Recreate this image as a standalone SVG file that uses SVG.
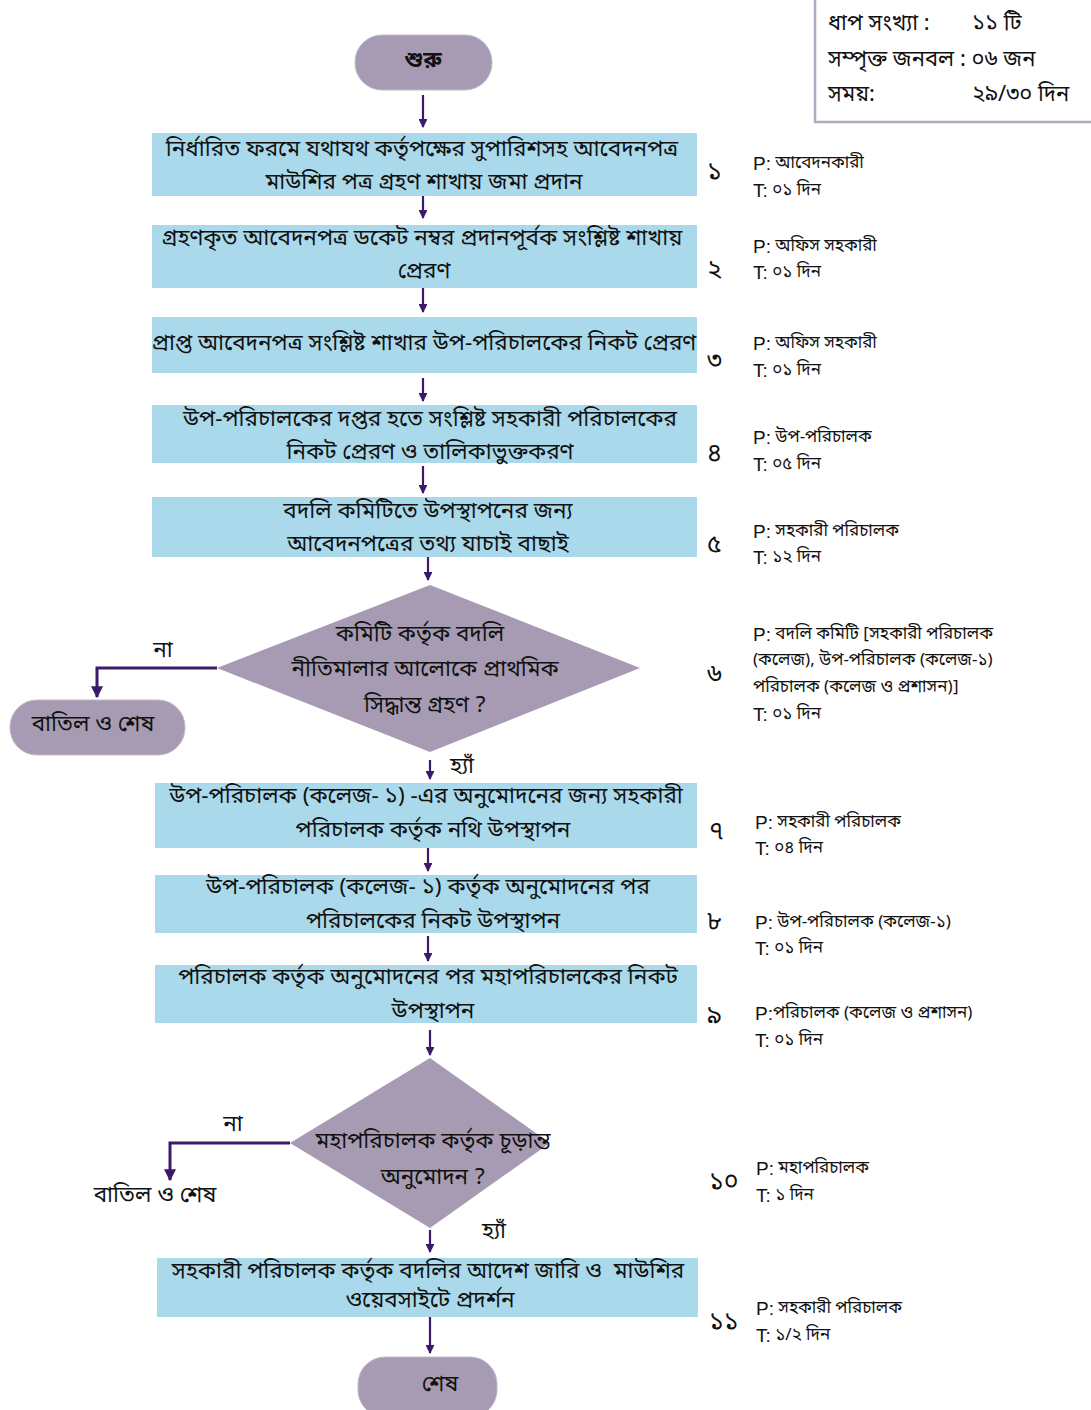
<svg xmlns="http://www.w3.org/2000/svg" width="1091" height="1410" viewBox="0 0 1091 1410">
<style>
text{font-family:"Noto Sans Bengali","Noto Serif Bengali","Lohit Bengali","Noto Sans","DejaVu Sans",sans-serif;fill:#111}
.bx{fill:#a9d9ea}
.term{fill:#a79bb3;stroke:#c4b7cc;stroke-width:1}
.dia{fill:#a79bb3}
.t{font-size:22.5px;text-anchor:middle;dominant-baseline:central}
.s{font-size:17px;dominant-baseline:central}
.n{font-size:25px;dominant-baseline:central}
.i{font-size:22px;dominant-baseline:central}
.l{font-family:"Liberation Sans",sans-serif;font-size:19px}
.c{stroke:#3b1a6b;stroke-width:2.2;fill:none}
.c2{stroke:#3b1a6b;stroke-width:3;fill:none}
</style>
<defs>
<marker id="ah" viewBox="0 0 10 10" refX="9" refY="5" markerWidth="4" markerHeight="4" orient="auto" markerUnits="strokeWidth">
<path d="M0,0 L10,5 L0,10 z" fill="#3b1a6b"/>
</marker>
</defs>
<rect width="1091" height="1410" fill="#fff"/>

<g id="info">
<rect x="815" y="-2" width="290" height="124" fill="#fff" stroke="#b4a9be" stroke-width="2.5"/>
<text class="i" x="828" y="24">ধাপ সংখ্যা :</text>
<text class="i" x="972" y="24">১১ টি</text>
<text class="i" x="828" y="60">সম্পৃক্ত জনবল : ০৬ জন</text>
<text class="i" x="828" y="95">সময়:</text>
<text class="i" x="972" y="95">২৯/৩০ দিন</text>
</g>

<g id="start">
<rect class="term" x="355" y="35" width="137" height="55" rx="27"/>
<text class="t" x="423" y="61" style="font-weight:bold">শুরু</text>
</g>

<g id="s1">
<rect class="bx" x="152" y="133" width="545" height="63"/>
<text class="t" x="422" y="150">নির্ধারিত ফরমে যথাযথ কর্তৃপক্ষের সুপারিশসহ আবেদনপত্র</text>
<text class="t" x="424" y="183">মাউশির পত্র গ্রহণ শাখায় জমা প্রদান</text>
</g>
<g id="s2">
<rect class="bx" x="152" y="225" width="545" height="63"/>
<text class="t" x="422" y="239">গ্রহণকৃত আবেদনপত্র ডকেট নম্বর প্রদানপূর্বক সংশ্লিষ্ট শাখায়</text>
<text class="t" x="424" y="272">প্রেরণ</text>
</g>
<g id="s3">
<rect class="bx" x="152" y="317" width="545" height="56"/>
<text class="t" x="424" y="344">প্রাপ্ত আবেদনপত্র সংশ্লিষ্ট শাখার উপ-পরিচালকের নিকট প্রেরণ</text>
</g>
<g id="s4">
<rect class="bx" x="152" y="405" width="545" height="58"/>
<text class="t" x="430" y="420">উপ-পরিচালকের দপ্তর হতে সংশ্লিষ্ট সহকারী পরিচালকের</text>
<text class="t" x="430" y="453">নিকট প্রেরণ ও তালিকাভুক্তকরণ</text>
</g>
<g id="s5">
<rect class="bx" x="152" y="497" width="545" height="60"/>
<text class="t" x="428" y="512">বদলি কমিটিতে উপস্থাপনের জন্য</text>
<text class="t" x="428" y="545">আবেদনপত্রের তথ্য যাচাই বাছাই</text>
</g>
<g id="d6">
<polygon class="dia" points="430,585 640,668 430,752 217,668"/>
<text class="t" x="420" y="635">কমিটি কর্তৃক বদলি</text>
<text class="t" x="425" y="670">নীতিমালার আলোকে প্রাথমিক</text>
<text class="t" x="425" y="706">সিদ্ধান্ত গ্রহণ ?</text>
</g>
<g id="reject1">
<rect class="term" x="10" y="700" width="175" height="55" rx="27"/>
<text class="t" x="93" y="725">বাতিল ও শেষ</text>
</g>
<g id="s7">
<rect class="bx" x="155" y="783" width="542" height="65"/>
<text class="t" x="426" y="797">উপ-পরিচালক (কলেজ- ১) -এর অনুমোদনের জন্য সহকারী</text>
<text class="t" x="433" y="831">পরিচালক কর্তৃক নথি উপস্থাপন</text>
</g>
<g id="s8">
<rect class="bx" x="155" y="875" width="542" height="58"/>
<text class="t" x="428" y="888">উপ-পরিচালক (কলেজ- ১) কর্তৃক অনুমোদনের পর</text>
<text class="t" x="433" y="922">পরিচালকের নিকট উপস্থাপন</text>
</g>
<g id="s9">
<rect class="bx" x="155" y="965" width="542" height="58"/>
<text class="t" x="428" y="978">পরিচালক কর্তৃক অনুমোদনের পর মহাপরিচালকের নিকট</text>
<text class="t" x="433" y="1012">উপস্থাপন</text>
</g>
<g id="d10">
<polygon class="dia" points="430,1058 550,1143 430,1228 290,1143"/>
<text class="t" x="433" y="1142">মহাপরিচালক কর্তৃক চূড়ান্ত</text>
<text class="t" x="433" y="1178">অনুমোদন ?</text>
</g>
<g id="reject2">
<text class="t" x="155" y="1196">বাতিল ও শেষ</text>
</g>
<g id="s11">
<rect class="bx" x="157" y="1258" width="541" height="59"/>
<text class="t" x="428" y="1272">সহকারী পরিচালক কর্তৃক বদলির আদেশ জারি ও&#160; মাউশির</text>
<text class="t" x="430" y="1301">ওয়েবসাইটে প্রদর্শন</text>
</g>
<g id="end">
<rect class="term" x="358" y="1357" width="139" height="60" rx="27"/>
<text class="t" x="440" y="1385">শেষ</text>
</g>

<g id="connectors">
<line class="c" x1="423" y1="95" x2="423" y2="127" marker-end="url(#ah)"/>
<line class="c" x1="423" y1="196" x2="423" y2="218" marker-end="url(#ah)"/>
<line class="c" x1="423" y1="288" x2="423" y2="312" marker-end="url(#ah)"/>
<line class="c" x1="423" y1="378" x2="423" y2="401" marker-end="url(#ah)"/>
<line class="c" x1="423" y1="466" x2="423" y2="493" marker-end="url(#ah)"/>
<line class="c" x1="428" y1="557" x2="428" y2="580" marker-end="url(#ah)"/>
<polyline class="c2" points="217,668 97,668 97,697" marker-end="url(#ah)"/>
<line class="c" x1="430" y1="760" x2="430" y2="779" marker-end="url(#ah)"/>
<line class="c" x1="428" y1="848" x2="428" y2="871" marker-end="url(#ah)"/>
<line class="c" x1="428" y1="936" x2="428" y2="961" marker-end="url(#ah)"/>
<line class="c" x1="430" y1="1030" x2="430" y2="1055" marker-end="url(#ah)"/>
<polyline class="c2" points="290,1143 170,1143 170,1180" marker-end="url(#ah)"/>
<line class="c" x1="430" y1="1230" x2="430" y2="1252" marker-end="url(#ah)"/>
<line class="c" x1="430" y1="1317" x2="430" y2="1353" marker-end="url(#ah)"/>
<text class="t" x="163" y="651">না</text>
<text class="t" x="462" y="767">হ্যাঁ</text>
<text class="t" x="233" y="1125">না</text>
<text class="t" x="494" y="1232">হ্যাঁ</text>
</g>

<g id="notes">
<text class="n" x="707" y="172">১</text>
<text class="s" x="753" y="163"><tspan class="l">P:</tspan> আবেদনকারী</text>
<text class="s" x="753" y="190"><tspan class="l">T:</tspan> ০১ দিন</text>
<text class="n" x="707" y="270">২</text>
<text class="s" x="753" y="246"><tspan class="l">P:</tspan> অফিস সহকারী</text>
<text class="s" x="753" y="272"><tspan class="l">T:</tspan> ০১ দিন</text>
<text class="n" x="707" y="362">৩</text>
<text class="s" x="753" y="343"><tspan class="l">P:</tspan> অফিস সহকারী</text>
<text class="s" x="753" y="370"><tspan class="l">T:</tspan> ০১ দিন</text>
<text class="n" x="707" y="454">৪</text>
<text class="s" x="753" y="437"><tspan class="l">P:</tspan> উপ-পরিচালক</text>
<text class="s" x="753" y="464"><tspan class="l">T:</tspan> ০৫ দিন</text>
<text class="n" x="707" y="545">৫</text>
<text class="s" x="753" y="531"><tspan class="l">P:</tspan> সহকারী পরিচালক</text>
<text class="s" x="753" y="557"><tspan class="l">T:</tspan> ১২ দিন</text>
<text class="n" x="707" y="675">৬</text>
<text class="s" x="753" y="634"><tspan class="l">P:</tspan> বদলি কমিটি [সহকারী পরিচালক</text>
<text class="s" x="753" y="660">(কলেজ), উপ-পরিচালক (কলেজ-১)</text>
<text class="s" x="753" y="687">পরিচালক (কলেজ ও প্রশাসন)]</text>
<text class="s" x="753" y="714"><tspan class="l">T:</tspan> ০১ দিন</text>
<text class="n" x="709" y="832">৭</text>
<text class="s" x="755" y="822"><tspan class="l">P:</tspan> সহকারী পরিচালক</text>
<text class="s" x="755" y="848"><tspan class="l">T:</tspan> ০৪ দিন</text>
<text class="n" x="707" y="922">৮</text>
<text class="s" x="755" y="922"><tspan class="l">P:</tspan> উপ-পরিচালক (কলেজ-১)</text>
<text class="s" x="755" y="948"><tspan class="l">T:</tspan> ০১ দিন</text>
<text class="n" x="707" y="1016">৯</text>
<text class="s" x="755" y="1013"><tspan class="l">P:</tspan>পরিচালক (কলেজ ও প্রশাসন)</text>
<text class="s" x="755" y="1040"><tspan class="l">T:</tspan> ০১ দিন</text>
<text class="n" x="709" y="1182">১০</text>
<text class="s" x="756" y="1168"><tspan class="l">P:</tspan> মহাপরিচালক</text>
<text class="s" x="756" y="1195"><tspan class="l">T:</tspan> ১ দিন</text>
<text class="n" x="709" y="1322">১১</text>
<text class="s" x="756" y="1308"><tspan class="l">P:</tspan> সহকারী পরিচালক</text>
<text class="s" x="756" y="1335"><tspan class="l">T:</tspan> ১/২ দিন</text>
</g>
</svg>
